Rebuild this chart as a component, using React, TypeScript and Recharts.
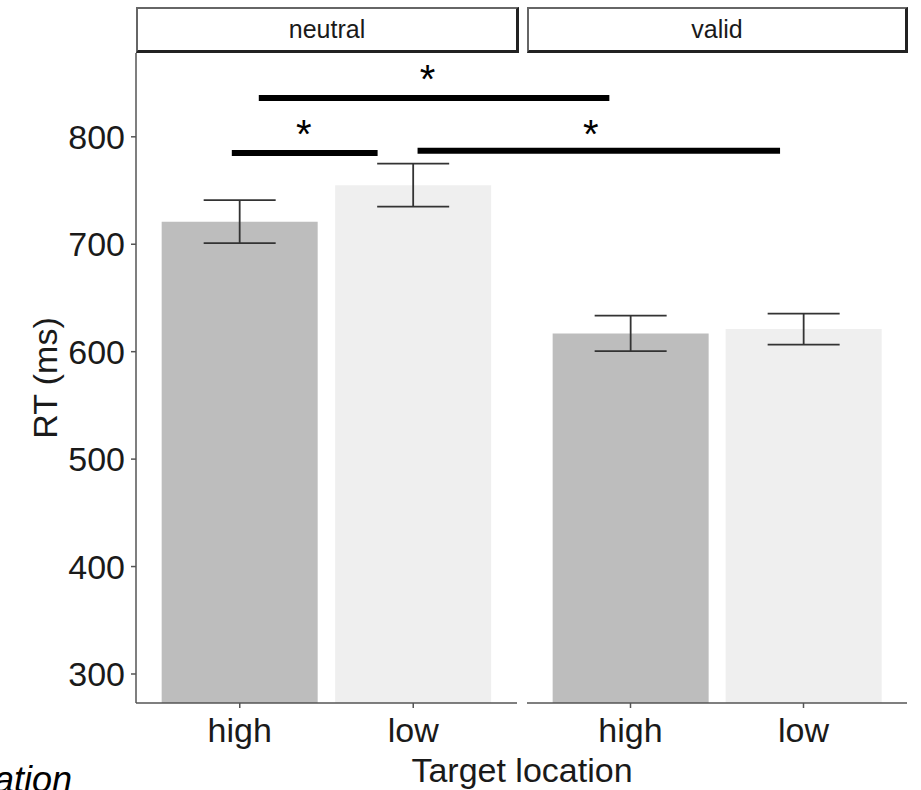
import React from 'react';
import { BarChart, Bar, XAxis, YAxis, ErrorBar, Cell, ComposedChart, ReferenceLine, Scatter } from 'recharts';

const locations = ['high', 'low'];
const neutralRT = [721, 755];
const neutralErr = [20, 20];
const validRT = [617, 621];
const validErr = [16.5, 14.5];
const yTicks = [300, 400, 500, 600, 700, 800];
const yDomain = [273, 878];
const barColors = ['#bdbdbd', '#efefef'];

// significance annotations, x in category units across both panels
const sigBars = [
  { x1: 1.11, x2: 3.137, y: 836 },
  { x1: 0.954, x2: 1.797, y: 785 },
  { x1: 2.028, x2: 4.124, y: 787 },
];
const sigStars = [
  { x: 2.086, y: 862 },
  { x: 1.37, y: 811 },
  { x: 3.03, y: 811 },
];

const FONT = '"Liberation Sans", Arial, sans-serif';
const TXT = '#1a1a1a';

const neutralData = locations.map((l, i) => ({ loc: l, rt: neutralRT[i], err: neutralErr[i] }));
const validData = locations.map((l, i) => ({ loc: l, rt: validRT[i], err: validErr[i] }));

const tickStyle = { fontSize: 34, fill: TXT, fontFamily: FONT };

function Panel({ data, showY, width }: { data: any[]; showY: boolean; width: number }) {
  return (
    <BarChart
      width={width}
      height={790}
      data={data}
      margin={{ top: 53, right: 0, bottom: 0, left: 0 }}
      barCategoryGap="5%"
    >
      <XAxis
        dataKey="loc"
        height={87}
        padding={{ left: 17, right: 17 }}
        tick={tickStyle}
        tickSize={5}
        tickMargin={10}
        axisLine={{ stroke: '#555', strokeWidth: 1.5 }}
        tickLine={{ stroke: '#555', strokeWidth: 1.5 }}
      />
      <YAxis
        hide={!showY}
        width={136}
        type="number"
        domain={yDomain}
        ticks={yTicks}
        allowDataOverflow
        tick={tickStyle}
        tickSize={5}
        tickMargin={6}
        axisLine={{ stroke: '#555', strokeWidth: 1.5 }}
        tickLine={{ stroke: '#555', strokeWidth: 1.5 }}
        label={{ value: 'RT (ms)', angle: -90, position: 'center', dx: -23, style: { fontSize: 34, fill: TXT, fontFamily: FONT } }}
      />
      <Bar dataKey="rt" isAnimationActive={false}>
        {data.map((d, i) => (
          <Cell key={d.loc} fill={barColors[i]} />
        ))}
        <ErrorBar dataKey="err" width={36} stroke="#333" strokeWidth={1.8} direction="y" />
      </Bar>
    </BarChart>
  );
}

const Star = (props: any) => {
  const { cx, cy } = props;
  return (
    <text x={cx} y={cy + 23} textAnchor="middle" fontSize={40} fontFamily={FONT} fill="#000">
      *
    </text>
  );
};

const stripStyle: React.CSSProperties = {
  position: 'absolute',
  top: 7,
  height: 46,
  boxSizing: 'border-box',
  borderTop: '2px solid #666',
  borderLeft: '2px solid #666',
  borderRight: '3px solid #222',
  borderBottom: '3px solid #222',
  background: '#fff',
  display: 'flex',
  alignItems: 'center',
  justifyContent: 'center',
  fontFamily: FONT,
  fontSize: 25,
  color: TXT,
};

export default function App() {
  return (
    <div style={{ position: 'absolute', left: 0, top: 0, width: 921, height: 790, overflow: 'hidden', background: '#fff' }}>
      <div style={{ position: 'absolute', left: 0, top: 0 }}>
        <Panel data={neutralData} showY={true} width={517} />
      </div>
      <div style={{ position: 'absolute', left: 527, top: 0 }}>
        <Panel data={validData} showY={false} width={380} />
      </div>
      <div style={{ ...stripStyle, left: 136, width: 383 }}>neutral</div>
      <div style={{ ...stripStyle, left: 527, width: 381 }}>valid</div>
      <div style={{ position: 'absolute', left: 0, top: 0, pointerEvents: 'none' }}>
        <ComposedChart width={907} height={790} margin={{ top: 53, right: 0, bottom: 87, left: 136 }} data={sigStars}>
          <XAxis type="number" dataKey="x" domain={[0.4, 4.858]} hide allowDataOverflow />
          <YAxis type="number" dataKey="y" domain={yDomain} hide allowDataOverflow />
          {sigBars.map((b, i) => (
            <ReferenceLine
              key={i}
              segment={[{ x: b.x1, y: b.y }, { x: b.x2, y: b.y }]}
              stroke="#000"
              strokeWidth={6}
              ifOverflow="visible"
            />
          ))}
          <Scatter data={sigStars} dataKey="y" shape={Star} isAnimationActive={false} />
        </ComposedChart>
      </div>
      <div
        style={{
          position: 'absolute',
          left: 272,
          width: 500,
          top: 751,
          textAlign: 'center',
          fontFamily: FONT,
          fontSize: 34,
          color: TXT,
          lineHeight: '38px',
        }}
      >
        Target location
      </div>
      <div
        style={{
          position: 'absolute',
          left: -6,
          top: 760,
          fontFamily: FONT,
          fontStyle: 'italic',
          fontSize: 36,
          color: '#000',
          lineHeight: '40px',
        }}
      >
        ation
      </div>
    </div>
  );
}
